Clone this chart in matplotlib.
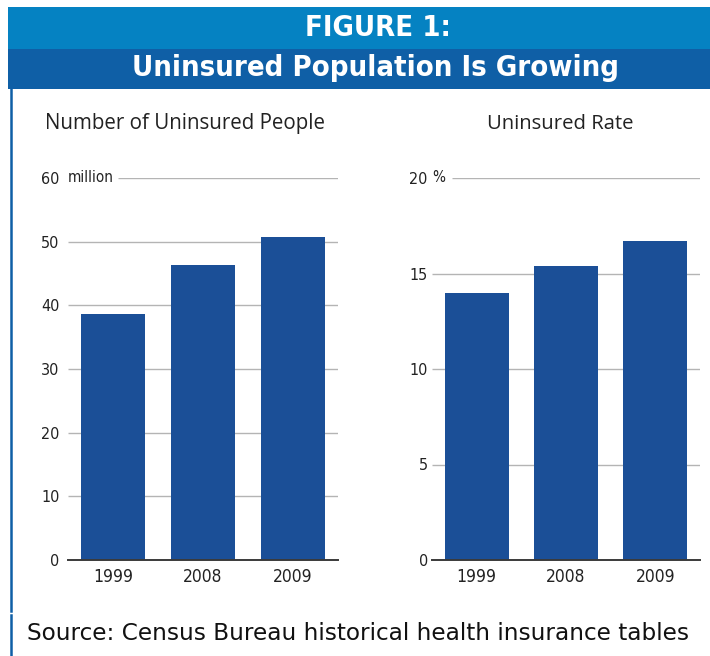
import matplotlib
matplotlib.use("Agg")
import matplotlib.pyplot as plt
from matplotlib.patches import Rectangle
from matplotlib.transforms import blended_transform_factory

years = ["1999", "2008", "2009"]
uninsured_millions = [38.7, 46.3, 50.7]
uninsured_rate = [14.0, 15.4, 16.7]
people_ticks = [0, 10, 20, 30, 40, 50, 60]
rate_ticks = [0, 5, 10, 15, 20]

W, H = 710, 656
BAR = "#1b4f97"
GRID = "#b4b4b4"
NARROW = dict(family="DejaVu Sans", stretch="condensed")

fig = plt.figure(figsize=(W / 100, H / 100), dpi=100)
fig.patch.set_facecolor("white")


def fx(x):
    return x / W


def fy(y):
    return 1 - y / H


# header bands
fig.patches.append(Rectangle((fx(8), fy(49)), fx(702), 42 / H, transform=fig.transFigure,
                             facecolor="#0582c2", edgecolor="none"))
fig.patches.append(Rectangle((fx(8), fy(89)), fx(702), 40 / H, transform=fig.transFigure,
                             facecolor="#0f5fa6", edgecolor="none"))
fig.text(fx(378), fy(28), "FIGURE 1:", color="white", fontsize=21, fontweight="bold",
         ha="center", va="center", **NARROW)
fig.text(fx(376), fy(68), "Uninsured Population Is Growing", color="white", fontsize=21,
         fontweight="bold", ha="center", va="center", **NARROW)

# left border
fig.add_artist(plt.Line2D([fx(11), fx(11)], [fy(89), fy(611)], color="#0f5fa6", lw=1.8))
fig.add_artist(plt.Line2D([fx(11), fx(11)], [fy(615), fy(656)], color="#0f5fa6", lw=1.8))


def panel(left, right, values, ticks, top_unit, unit_x, grid_start, ypad):
    ax = fig.add_axes([fx(left), fy(560), fx(right - left), 382 / H])
    ax.set_facecolor("none")
    x = range(len(values))
    ymax = ticks[-1]
    for t in ticks[1:]:
        start = grid_start if t == ymax else -0.5
        ax.hlines(t, start, 2.5, color=GRID, lw=1.0, zorder=1)
    ax.bar(x, values, width=0.72, color=BAR, zorder=2)
    ax.set_xlim(-0.5, 2.5)
    ax.set_ylim(0, ymax)
    for s in ["left", "right", "top"]:
        ax.spines[s].set_visible(False)
    ax.spines["bottom"].set_color("#3a3a3a")
    ax.spines["bottom"].set_linewidth(1.4)
    ax.set_xticks(list(x))
    ax.set_xticklabels(years, fontsize=12.5, color="#222222", **NARROW)
    ax.set_yticks(ticks)
    ax.set_yticklabels([str(t) for t in ticks], fontsize=11.5, color="#222222", **NARROW)
    ax.tick_params(axis="x", length=0, pad=6)
    ax.tick_params(axis="y", length=0, pad=ypad)
    trans = blended_transform_factory(ax.transAxes, ax.transData)
    ax.text(unit_x, ymax, top_unit, transform=trans, fontsize=11, color="#222222",
            ha="left", va="center", **NARROW)
    return ax


panel(68, 338, uninsured_millions, people_ticks, "million", -0.002, 0.06, 6)
panel(432, 700, uninsured_rate, rate_ticks, "%", 0.0, -0.28, 3)

fig.text(fx(45), fy(124), "Number of Uninsured People", fontsize=14.8, color="#222222",
         family="Open Sans", ha="left", va="center")
fig.text(fx(560), fy(124), "Uninsured Rate", fontsize=14.6, color="#222222",
         family="Open Sans", ha="center", va="center")

fig.text(fx(27), fy(634), "Source: Census Bureau historical health insurance tables",
         fontsize=16.7, color="#111111", family="DejaVu Sans", ha="left", va="center")

fig.savefig("out.png", dpi=100)
